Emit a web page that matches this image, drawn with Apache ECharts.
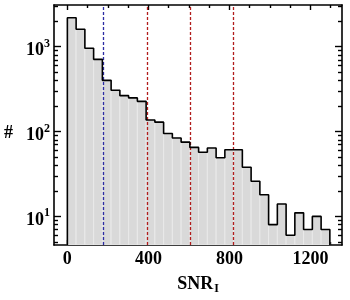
<!DOCTYPE html>
<html>
<head>
<meta charset="utf-8">
<script src="https://cdn.jsdelivr.net/npm/echarts@6/dist/echarts.min.js"></script>
<style>html,body{margin:0;padding:0;background:#fff}#c{width:350px;height:300px}</style>
</head>
<body>
<div id="c"></div>
<script>
// ---- data ----
var binEdges = [0, 43.2, 86.4, 129.6, 172.8, 216, 259.2, 302.4, 345.6, 388.8, 432, 475.2, 518.4, 561.6, 604.8, 648, 691.2, 734.4, 777.6, 820.8, 864, 907.2, 950.4, 993.6, 1036.8, 1080, 1123.2, 1166.4, 1209.6, 1252.8, 1296];
var counts = [2193, 1608, 959, 709, 401, 307, 265, 249, 227, 137, 129, 95, 84, 75, 65, 57, 64, 49, 61, 61, 38, 26, 18, 8, 14, 6, 11, 7, 10, 7];
var thresholds = [176, 392, 606, 818];
var thresholdColors = ['#2b2ba3', '#b21c1c', '#b21c1c', '#b21c1c'];
var xMajorTicks = [0, 400, 800, 1200];
var xMinorTicks = [100, 200, 300, 500, 600, 700, 900, 1000, 1100, 1300];
var yMajorTicks = [10, 100, 1000];
var yMinorTicks = [5, 6, 7, 8, 9, 20, 30, 40, 50, 60, 70, 80, 90, 200, 300, 400, 500, 600, 700, 800, 900, 2000, 3000];
var xMin = -66, xMax = 1356, yMin = 4.6, yMax = 3100;

var FONT = 'Liberation Serif';
var barData = [];
for (var i = 0; i < counts.length; i++) barData.push([binEdges[i], binEdges[i + 1], counts[i]]);
var stepData = [[binEdges[0], yMin]];
for (var j = 0; j < counts.length; j++) stepData.push([binEdges[j], counts[j]]);
stepData.push([binEdges[counts.length], counts[counts.length - 1]]);
stepData.push([binEdges[counts.length], yMin]);

function xAxisDef(pos, ticks, len, showLabel, showLine) {
  return {
    type: 'value', position: pos, min: xMin, max: xMax,
    axisLine: {show: showLine, onZero: false, lineStyle: {color: '#000', width: 1.6}},
    axisTick: {show: true, inside: true, length: len, customValues: ticks, lineStyle: {color: '#000', width: 1.4}},
    axisLabel: {show: showLabel, customValues: showLabel ? ticks : undefined, margin: 5,
      formatter: function (v) { return String(v); },
      fontFamily: FONT, fontWeight: 'bold', fontSize: 18, color: '#000'},
    splitLine: {show: false}
  };
}
function yAxisDef(pos, ticks, len, showLabel, showLine) {
  return {
    type: 'log', logBase: 10, position: pos, min: yMin, max: yMax,
    axisLine: {show: showLine, onZero: false, lineStyle: {color: '#000', width: 1.6}},
    axisTick: {show: true, inside: true, length: len, customValues: ticks, lineStyle: {color: '#000', width: 1.4}},
    axisLabel: {show: showLabel, customValues: showLabel ? ticks : undefined, margin: 4,
      padding: [8, 0, 0, 0],
      formatter: function (v) { return '{b|10}{s|' + Math.round(Math.log10(v)) + '}'; },
      rich: {
        b: {fontFamily: FONT, fontWeight: 'bold', fontSize: 18, color: '#000'},
        s: {fontFamily: FONT, fontWeight: 'bold', fontSize: 12, color: '#000', padding: [0, 0, 14, 0]}
      }},
    splitLine: {show: false}
  };
}

var xA = [xAxisDef('bottom', xMajorTicks, 5, true, true), xAxisDef('bottom', xMinorTicks, 3, false, false),
          xAxisDef('top', xMajorTicks, 5, false, true), xAxisDef('top', xMinorTicks, 3, false, false)];
xA[0].name = '{a|SNR}{sub|I}';
xA[0].nameLocation = 'middle';
xA[0].nameGap = 28;
xA[0].nameTextStyle = {rich: {
  a: {fontFamily: FONT, fontWeight: 'bold', fontSize: 18, color: '#000'},
  sub: {fontFamily: FONT, fontWeight: 'bold', fontSize: 12, color: '#000', padding: [10, 0, 0, 1]}
}};
var yA = [yAxisDef('left', yMajorTicks, 7, true, true), yAxisDef('left', yMinorTicks, 4, false, false),
          yAxisDef('right', yMajorTicks, 7, false, true), yAxisDef('right', yMinorTicks, 4, false, false)];

var chart = echarts.init(document.getElementById('c'), null, {renderer: 'canvas'});
chart.setOption({
  animation: false,
  backgroundColor: '#fff',
  grid: {left: 54, right: 8, top: 5, bottom: 48, containLabel: false},
  xAxis: xA,
  yAxis: yA,
  graphic: [{type: 'text', left: 4, top: 124, style: {text: '#', fontFamily: FONT, fontWeight: 'bold', fontSize: 18, fill: '#000'}}],
  series: [
    {
      type: 'custom', xAxisIndex: 0, yAxisIndex: 0, clip: true, silent: true,
      data: barData, encode: {x: [0, 1], y: 2},
      renderItem: function (params, api) {
        var p0 = api.coord([api.value(0), api.value(2)]);
        var p1 = api.coord([api.value(1), yMin]);
        return {type: 'rect', shape: {x: p0[0], y: p0[1], width: p1[0] - p0[0], height: p1[1] - p0[1]},
          style: {fill: '#d9d9d9', stroke: '#e9e9e9', lineWidth: 1}};
      },
      z: 1
    },
    {
      type: 'line', xAxisIndex: 0, yAxisIndex: 0, data: stepData, step: 'end', symbol: 'none', silent: true,
      lineStyle: {color: '#000', width: 1.6}, z: 3,
      markLine: {
        silent: true, symbol: 'none', label: {show: false},
        data: thresholds.map(function (t, k) {
          return {xAxis: t, lineStyle: {color: thresholdColors[k], type: [3, 2], width: 1.3}};
        }),
        z: 2
      }
    }
  ]
});
</script>
</body>
</html>
